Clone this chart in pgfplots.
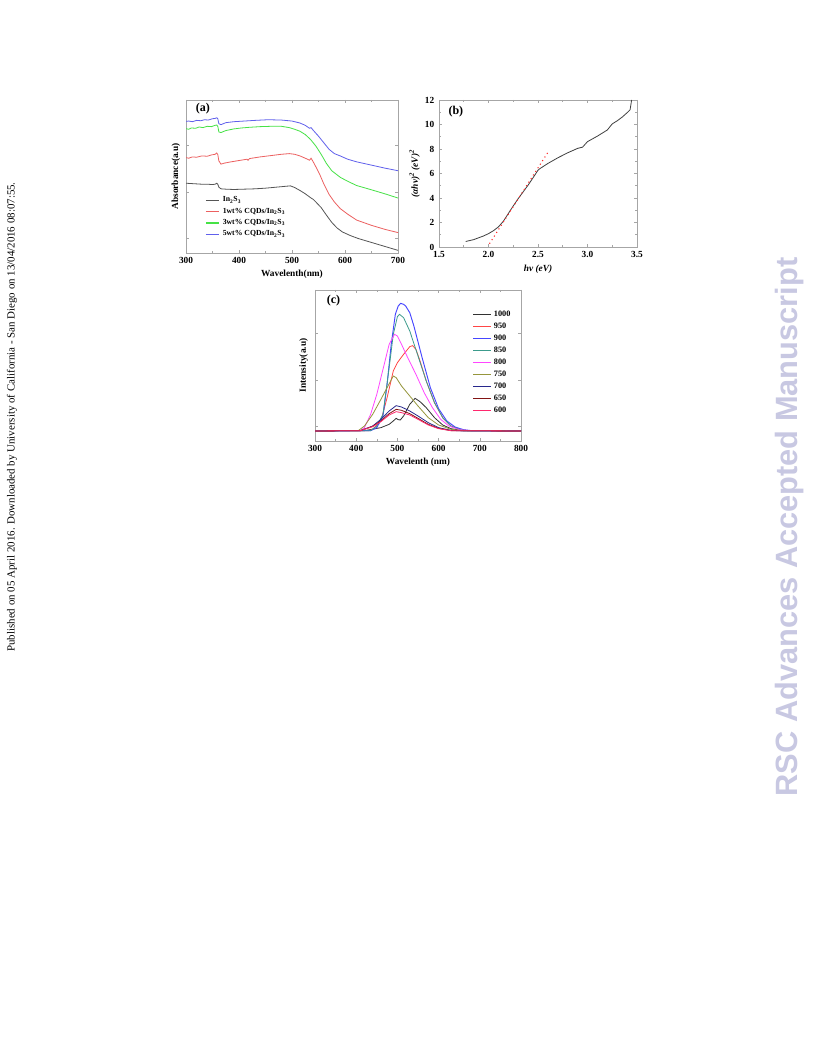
\documentclass[border=0pt]{standalone}
\usepackage{fontspec}
\setmainfont{Liberation Serif}
\newfontfamily\wmfont{Liberation Sans}
\usepackage{pgfplots}
\pgfplotsset{compat=1.18}
\definecolor{wm}{RGB}{200,200,226}
\definecolor{aK}{RGB}{85,85,85}
\definecolor{aR}{RGB}{236,96,96}
\definecolor{aG}{RGB}{70,226,70}
\definecolor{aB}{RGB}{96,96,236}
\definecolor{c1000}{RGB}{50,50,50}
\definecolor{c950}{RGB}{255,70,70}
\definecolor{c900}{RGB}{70,70,255}
\definecolor{c850}{RGB}{60,155,140}
\definecolor{c800}{RGB}{255,70,255}
\definecolor{c750}{RGB}{150,150,60}
\definecolor{c700}{RGB}{40,40,140}
\definecolor{c650}{RGB}{130,20,20}
\definecolor{c600}{RGB}{255,40,110}
\pgfplotsset{myax/.style={scale only axis, axis line style={gray!70}, tick align=inside,
  major tick length=2.5pt, minor tick length=1.5pt, every tick/.style={gray!70,thin},
  ticklabel style={font=\fontsize{7}{8}\selectfont\bfseries, text=black},
  /pgf/number format/assume math mode=true,
  label style={font=\fontsize{7}{8}\selectfont\bfseries},
  xlabel style={yshift=2pt}}}
\begin{document}
\begin{tikzpicture}
\useasboundingbox (0pt,0pt) rectangle (612pt,792pt);
\fill[white] (0pt,0pt) rectangle (612pt,792pt);
\node[rotate=90, inner sep=0] at (9pt,479.25pt) {\resizebox{352pt}{!}{\fontsize{8}{8}\selectfont Published on 05 April 2016. Downloaded by University of California - San Diego on 13/04/2016 08:07:55.}};
\node[rotate=90, inner sep=0, text=wm] at (592.5pt,396.75pt) {\resizebox{404pt}{!}{\wmfont\bfseries\fontsize{23}{23}\selectfont RSC Advances Accepted Manuscript}};

% ---------- (a)
\begin{axis}[myax, at={(139.5pt,602.25pt)}, anchor=south west, width=159pt, height=114.75pt,
  xmin=300, xmax=700, ymin=0, ymax=465, xtick={300,400,...,700}, minor xtick={350,450,...,650},
  ytick={45,185,327}, yticklabels={}, xlabel={Wavelenth(nm)}, ylabel={Absorbance(a.u)},
  ylabel style={yshift=-6pt},
  legend style={draw=none, fill=none, at={(rel axis cs:0.07,0.405)}, anchor=north west,
    font=\fontsize{5.8}{6.3}\selectfont\bfseries, row sep=-0.8pt},
  legend cell align=left,
  legend image code/.code={\draw[#1, line width=1pt] (0cm,0cm) -- (0.36cm,0cm);}]
\addplot[aK, line width=0.6pt] coordinates {(300,212) (310,211) (320,210) (330,209) (340,209) (350,208) (355,209) (358,212) (360,209) (362,200) (366,195) (375,194) (390,193) (410,194) (430,195) (450,197) (470,200) (490,203) (497,204) (505,199) (515,190) (525,180) (535,168) (540,163) (545,155) (555,138) (565,115) (575,93) (585,76) (595,64) (610,53) (625,44) (650,32) (675,20) (700,8)};
\addlegendentry{In\textsubscript{2}S\textsubscript{3}}
\addplot[aR, line width=0.6pt] coordinates {(300,290) (305,288) (312,292) (320,291) (330,295) (340,294) (348,298) (355,300) (358,304) (360,299) (362,280) (366,270) (372,273) (385,277) (400,281) (415,285) (417,282) (420,287) (440,292) (460,296) (480,300) (495,302) (505,300) (515,295) (525,288) (533,282) (536,288) (539,280) (545,262) (552,240) (560,210) (570,178) (580,155) (591,135) (605,118) (622,100) (650,84) (675,72) (700,62)};
\addlegendentry{1wt\% CQDs/In\textsubscript{2}S\textsubscript{3}}
\addplot[aG, line width=0.6pt] coordinates {(300,378) (305,376) (310,380) (318,379) (325,383) (332,381) (340,385) (348,384) (355,388) (358,389) (360,385) (362,368) (366,366) (375,372) (390,377) (405,380) (420,382) (440,384) (460,385) (480,385) (495,381) (505,376) (515,370) (525,360) (535,345) (545,325) (555,300) (565,272) (575,250) (591,230) (605,218) (622,205) (650,192) (675,180) (700,167)};
\addlegendentry{3wt\% CQDs/In\textsubscript{2}S\textsubscript{3}}
\addplot[aB, line width=0.6pt] coordinates {(300,400) (305,401) (312,399) (320,403) (328,402) (335,405) (342,404) (350,408) (355,409) (358,411) (360,408) (362,393) (366,390) (375,396) (390,399) (410,401) (430,403) (455,405) (480,404) (500,401) (515,395) (525,388) (533,379) (536,381) (540,373) (550,355) (560,335) (570,315) (580,302) (591,295) (605,285) (622,277) (650,267) (675,258) (700,250)};
\addlegendentry{5wt\% CQDs/In\textsubscript{2}S\textsubscript{3}}
\node[font=\fontsize{9}{9}\selectfont\bfseries] at (rel axis cs:0.08,0.945) {(a)};
\end{axis}

% ---------- (b)
\begin{axis}[myax, at={(329.25pt,606.75pt)}, anchor=south west, width=148.5pt, height=110.25pt,
  xmin=1.5, xmax=3.5, ymin=0, ymax=12, xtick={1.5,2.0,...,3.5}, minor xtick={1.75,2.25,...,3.25},
  ytick={0,2,...,12}, minor ytick={1,3,...,11},
  xticklabel style={/pgf/number format/.cd, fixed, fixed zerofill, precision=1},
  xlabel={\itshape hν (eV)}, ylabel={\itshape (αhν)\textsuperscript{2} (eV)\textsuperscript{2}},
  ylabel style={yshift=-3pt}]
\addplot[black!75, line width=0.6pt] coordinates {(1.77,0.45) (1.85,0.6) (1.9,0.75) (1.95,0.9) (2.0,1.09) (2.05,1.33) (2.1,1.64) (2.15,2.1) (2.2,2.73) (2.25,3.35) (2.3,3.95) (2.35,4.5) (2.4,5.05) (2.45,5.65) (2.5,6.27) (2.52,6.4) (2.6,6.82) (2.7,7.28) (2.8,7.69) (2.9,8.05) (2.95,8.15) (3.0,8.6) (3.1,9.05) (3.2,9.55) (3.25,10.05) (3.3,10.3) (3.35,10.6) (3.4,10.96) (3.43,11.2) (3.44,11.7) (3.445,12)};
\addplot[red!85, line width=0.8pt, dash pattern=on 0.8pt off 2.4pt] coordinates {(2.01,0.27) (2.61,7.85)};
\node[font=\fontsize{9}{9}\selectfont\bfseries] at (rel axis cs:0.085,0.92) {(b)};
\end{axis}

% ---------- (c)
\begin{axis}[myax, at={(236.25pt,461.25pt)}, anchor=south west, width=154.5pt, height=113.25pt,
  xmin=300, xmax=800, ymin=0, ymax=453, xtick={300,400,...,800}, minor xtick={350,450,...,750},
  ytick={43,183,323}, yticklabels={}, xlabel={Wavelenth (nm)}, ylabel={Intensity(a.u)},
  ylabel style={yshift=-5pt},
  legend style={draw=none, fill=none, at={(rel axis cs:0.745,0.9)}, anchor=north west,
    font=\fontsize{6.2}{6.7}\selectfont\bfseries, row sep=-0.6pt},
  legend cell align=left,
  legend image code/.code={\draw[#1, line width=1.1pt] (0cm,0cm) -- (0.45cm,0cm);}]
\addplot[c1000, line width=0.6pt] coordinates {(300,30) (420,31) (460,40) (480,50) (490,60) (497,68) (502,64) (507,63) (515,75) (530,110) (543,128) (555,118) (570,100) (590,70) (610,48) (630,37) (660,31) (800,30)};
\addlegendentry{1000}
\addplot[c950, line width=0.6pt] coordinates {(300,30) (430,31) (440,35) (460,60) (475,130) (490,210) (500,235) (515,260) (530,283) (537,286) (545,275) (555,240) (570,180) (590,115) (610,70) (630,45) (650,35) (670,31) (800,30)};
\addlegendentry{950}
\addplot[c900, line width=0.7pt] coordinates {(300,30) (435,31) (450,40) (465,75) (475,170) (485,290) (495,380) (502,405) (508,413) (515,410) (520,405) (530,385) (540,345) (560,250) (580,160) (600,97) (620,60) (640,42) (660,34) (680,31) (800,30)};
\addlegendentry{900}
\addplot[c850, line width=0.6pt] coordinates {(300,30) (435,31) (450,45) (465,80) (480,220) (490,320) (500,373) (505,380) (515,370) (530,330) (550,255) (570,180) (590,115) (610,70) (630,45) (650,35) (670,31) (800,30)};
\addlegendentry{850}
\addplot[c800, line width=0.6pt] coordinates {(300,30) (410,31) (420,40) (435,80) (450,140) (465,215) (480,290) (493,320) (500,315) (510,290) (525,250) (545,200) (565,145) (585,100) (605,65) (625,45) (650,34) (680,31) (800,30)};
\addlegendentry{800}
\addplot[c750, line width=0.6pt] coordinates {(300,30) (405,31) (420,45) (440,80) (460,125) (475,160) (490,195) (497,190) (510,165) (530,135) (550,105) (575,70) (600,48) (630,35) (660,31) (800,30)};
\addlegendentry{750}
\addplot[c700, line width=0.6pt] coordinates {(300,30) (410,31) (440,45) (460,65) (480,90) (497,106) (510,102) (530,90) (550,75) (575,55) (600,40) (630,32) (660,30) (800,30)};
\addlegendentry{700}
\addplot[c650, line width=0.6pt] coordinates {(300,30) (410,31) (440,44) (460,60) (480,82) (497,95) (510,92) (530,82) (550,68) (575,50) (600,38) (630,31) (800,30)};
\addlegendentry{650}
\addplot[c600, line width=0.6pt] coordinates {(300,30) (410,31) (440,43) (460,58) (480,78) (497,88) (510,85) (530,78) (550,65) (575,48) (600,37) (630,31) (800,30)};
\addlegendentry{600}
\node[font=\fontsize{9}{9}\selectfont\bfseries] at (rel axis cs:0.09,0.93) {(c)};
\end{axis}
\end{tikzpicture}
\end{document}
